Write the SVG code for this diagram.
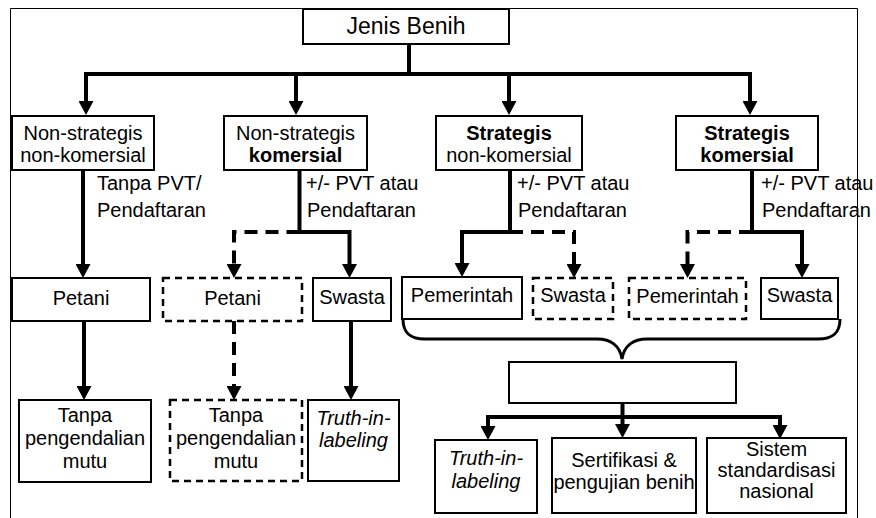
<svg xmlns="http://www.w3.org/2000/svg" width="876" height="518" viewBox="0 0 876 518">
<style>
.bx{fill:#fff;stroke:#000;stroke-width:2}
.dbx{fill:#fff;stroke:#000;stroke-width:2.5;stroke-dasharray:7,5}
.ln{fill:none;stroke:#000;stroke-width:4;stroke-linecap:square}
.dl{fill:none;stroke:#000;stroke-width:4;stroke-dasharray:13,8}
.ar{marker-end:url(#ah)}
text{font-family:"Liberation Sans",Arial,sans-serif;font-size:20px;fill:#000}
.c{text-anchor:middle}
.b{font-weight:bold}
.i{font-style:italic}
</style>
<defs>
<marker id="ah" markerUnits="userSpaceOnUse" viewBox="0 0 14 15" markerWidth="14" markerHeight="15" refX="0" refY="7.5" orient="auto">
<path d="M0,0 L14,7.5 L0,15 Z" fill="#000"/>
</marker>
</defs>
<path d="M10.5,518 V8.5 H857.5 V518" fill="none" stroke="#000" stroke-width="1"/>
<g id="connectors">
<path class="ln" d="M409,44 V74 M86,74 H750"/>
<path class="ln ar" d="M86,74 V101" style="stroke-linecap:butt"/>
<path class="ln ar" d="M296,74 V101" style="stroke-linecap:butt"/>
<path class="ln ar" d="M509,74 V101" style="stroke-linecap:butt"/>
<path class="ln ar" d="M750,74 V101" style="stroke-linecap:butt"/>
<path class="ln ar" d="M83,170 V264" style="stroke-linecap:butt"/>
<path class="ln ar" d="M84,321 V386" style="stroke-linecap:butt"/>
<path class="ln" d="M299.5,172 V232"/>
<path class="ln ar" d="M299.5,232 H349.5 V264" style="stroke-linecap:butt"/>
<path class="dl ar" d="M299.5,232 H234 V264"/>
<path class="dl ar" d="M234,321 V386"/>
<path class="ln ar" d="M351,321 V386" style="stroke-linecap:butt"/>
<path class="ln" d="M510,172 V232"/>
<path class="ln ar" d="M510,232 H462 V263" style="stroke-linecap:butt"/>
<path class="dl ar" d="M510,232 H574 V264"/>
<path class="ln" d="M752,172 V232"/>
<path class="ln ar" d="M752,232 H802 V264" style="stroke-linecap:butt"/>
<path class="dl ar" d="M752,232 H687.5 V264"/>
<path d="M403,319 C403,334 411,339 425,339 H597 C611,339 620,346 622,359 C624,346 633,339 647,339 H818 C832,339 840,334 840,319" fill="none" stroke="#000" stroke-width="3"/>
<path class="ln" d="M488,417 H780"/>
<path class="ln ar" d="M622.5,403 V424" style="stroke-linecap:butt"/>
<path class="ln ar" d="M488,417 V426" style="stroke-linecap:butt"/>
<path class="ln ar" d="M780,417 V425" style="stroke-linecap:butt"/>
</g>
<g id="jenis-benih"><rect class="bx" x="303" y="9" width="206" height="35"/><text class="c" x="406" y="34" style="font-size:23px">Jenis Benih</text></g>
<g id="ns-nk"><rect class="bx" x="12" y="116" width="142" height="54"/><text class="c" x="83" y="140">Non-strategis</text><text class="c" x="83" y="162">non-komersial</text></g>
<g id="ns-k"><rect class="bx" x="224" y="116" width="143" height="54"/><text class="c" x="295.5" y="140">Non-strategis</text><text class="c b" x="295.5" y="162">komersial</text></g>
<g id="s-nk"><rect class="bx" x="436" y="116" width="146" height="54"/><text class="c b" x="509" y="140">Strategis</text><text class="c" x="509" y="162">non-komersial</text></g>
<g id="s-k"><rect class="bx" x="676" y="116" width="142" height="54"/><text class="c b" x="747" y="140">Strategis</text><text class="c b" x="747" y="162">komersial</text></g>
<g id="labels">
<text x="97" y="190">Tanpa PVT/</text><text x="97" y="217">Pendaftaran</text>
<text x="306" y="190">+/- PVT atau</text><text x="307" y="217">Pendaftaran</text>
<text x="517" y="190">+/- PVT atau</text><text x="518" y="217">Pendaftaran</text>
<text x="761" y="190">+/- PVT atau</text><text x="762" y="217">Pendaftaran</text>
</g>
<g id="petani1"><rect class="bx" x="12" y="278" width="138" height="43"/><text class="c" x="81" y="305">Petani</text></g>
<g id="petani2"><rect class="dbx" x="163" y="278" width="139" height="43"/><text class="c" x="232.5" y="305">Petani</text></g>
<g id="swasta1"><rect class="bx" x="313" y="278" width="78" height="43"/><text class="c" x="352" y="304">Swasta</text></g>
<g id="pemerintah1"><rect class="bx" x="402" y="277" width="120" height="42"/><text class="c" x="462" y="302">Pemerintah</text></g>
<g id="swasta2"><rect class="dbx" x="533" y="278" width="80" height="41"/><text class="c" x="573" y="302">Swasta</text></g>
<g id="pemerintah2"><rect class="dbx" x="629" y="278" width="117" height="41"/><text class="c" x="687.5" y="303">Pemerintah</text></g>
<g id="swasta3"><rect class="bx" x="761" y="278" width="77" height="41"/><text class="c" x="799.5" y="302">Swasta</text></g>
<g id="tanpa1"><rect class="bx" x="19" y="400" width="132" height="82"/><text class="c" x="85" y="422">Tanpa</text><text class="c" x="85" y="445">pengendalian</text><text class="c" x="85" y="468">mutu</text></g>
<g id="tanpa2"><rect class="dbx" x="170" y="400" width="132" height="81"/><text class="c" x="236" y="422">Tanpa</text><text class="c" x="236" y="445">pengendalian</text><text class="c" x="236" y="468">mutu</text></g>
<g id="truth1"><rect class="bx" x="308" y="400" width="91" height="81"/><text class="c i" x="353.5" y="425">Truth-in-</text><text class="c i" x="353.5" y="447">labeling</text></g>
<g id="blank"><rect class="bx" x="509" y="362" width="227" height="41"/></g>
<g id="truth2"><rect class="bx" x="435" y="440" width="102" height="73"/><text class="c i" x="486" y="465">Truth-in-</text><text class="c i" x="486" y="488">labeling</text></g>
<g id="sertifikasi"><rect class="bx" x="552" y="438" width="144" height="75"/><text class="c" x="624" y="467">Sertifikasi &amp;</text><text class="c" x="624" y="489">pengujian benih</text></g>
<g id="sistem"><rect class="bx" x="707" y="438" width="139" height="75"/><text class="c" x="776.5" y="456">Sistem</text><text class="c" x="776.5" y="477">standardisasi</text><text class="c" x="776.5" y="498">nasional</text></g>
</svg>
